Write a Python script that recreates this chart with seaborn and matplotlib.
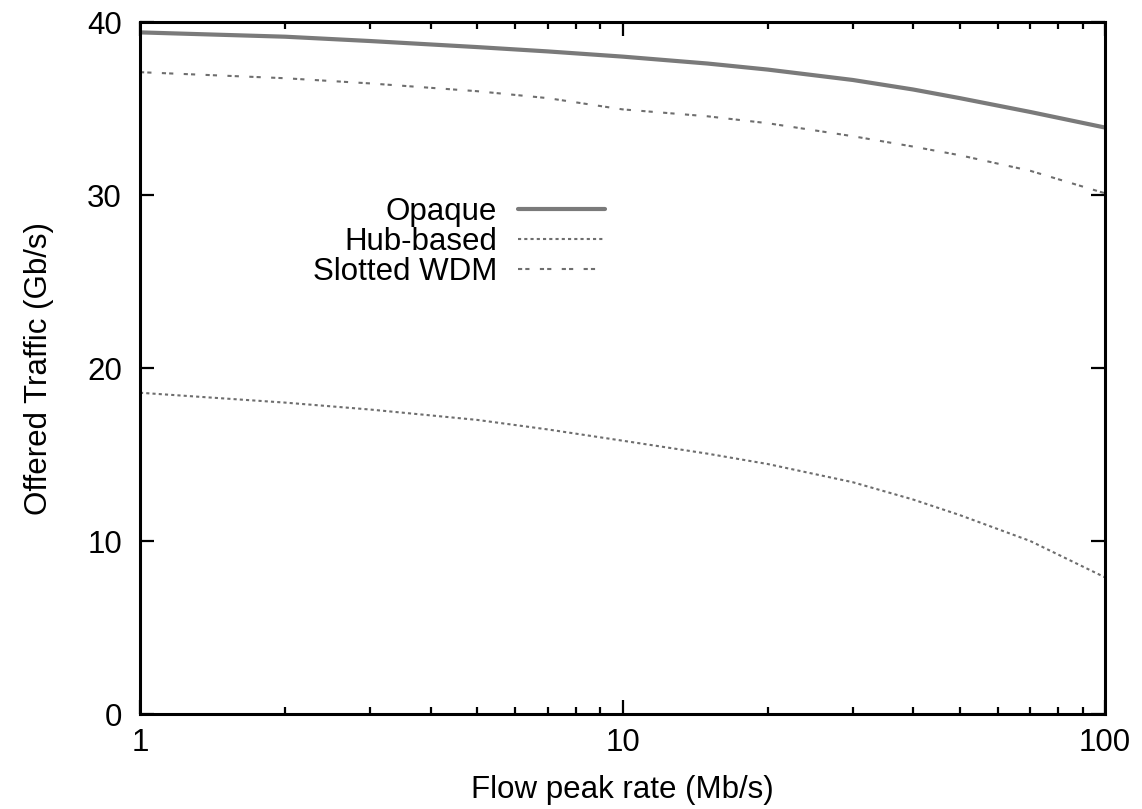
import numpy as np
import pandas as pd
import matplotlib
matplotlib.use("Agg")
import matplotlib.pyplot as plt
import seaborn as sns

# values (log x axis)
peak_rate = [1, 2, 3, 5, 7, 10, 15, 20, 30, 40, 50, 70, 100]
opaque = [39.4, 39.15, 38.9, 38.55, 38.3, 38.0, 37.6, 37.25, 36.65, 36.1, 35.6, 34.8, 33.9]
hub_based = [18.57, 18.0, 17.6, 17.0, 16.45, 15.8, 15.05, 14.45, 13.4, 12.4, 11.5, 10.0, 7.9]
slotted_wdm = [37.1, 36.75, 36.45, 36.0, 35.6, 34.95, 34.55, 34.15, 33.4, 32.8, 32.3, 31.4, 30.1]

series_names = ["Opaque", "Hub-based", "Slotted WDM"]
y_ticks = [0, 10, 20, 30, 40]
x_ticks = [1, 10, 100]

df = pd.DataFrame({"rate": peak_rate, "Opaque": opaque,
                   "Hub-based": hub_based, "Slotted WDM": slotted_wdm})

sns.set_style("ticks")
plt.rcParams["font.family"] = ["Liberation Sans", "DejaVu Sans"]

fig = plt.figure(figsize=(11.42, 8.09), dpi=100)
ax = fig.add_axes([0.1226, 0.1174, 0.845, 0.8554])

styles = {
    "Opaque": dict(color="#7a7a7a", linewidth=3.0, linestyle="-"),
    "Hub-based": dict(color="#6e6e6e", linewidth=1.5, linestyle=(0, (1.5, 1.5))),
    "Slotted WDM": dict(color="#6e6e6e", linewidth=1.5, linestyle=(0, (2, 1.5, 2, 5))),
}
for name in series_names:
    sns.lineplot(data=df, x="rate", y=name, ax=ax, label=name, **styles[name])

ax.set_xscale("log")
ax.set_xlim(1, 100)
ax.set_ylim(0, 40)
ax.set_xticks(x_ticks)
ax.set_xticklabels([str(t) for t in x_ticks])
ax.set_yticks(y_ticks)
ax.set_yticklabels([str(t) for t in y_ticks])
ax.yaxis.set_minor_locator(matplotlib.ticker.NullLocator())

for side in ["top", "right", "bottom", "left"]:
    ax.spines[side].set_visible(True)
    ax.spines[side].set_linewidth(2.2)
    ax.spines[side].set_color("black")

fs = 22.5
ax.tick_params(axis="both", which="major", direction="in", length=10, width=1.6,
               top=True, right=True, labelsize=fs, colors="black")
ax.tick_params(axis="x", which="minor", direction="in", length=5, width=1.6,
               top=True, bottom=True, colors="black")
ax.tick_params(axis="x", which="major", pad=10)
ax.tick_params(axis="y", which="major", pad=13)

ax.set_xlabel("Flow peak rate (Mb/s)", fontsize=fs, labelpad=12, color="black")
ax.set_ylabel("Offered Traffic (Gb/s)", fontsize=fs, labelpad=24, color="black")

leg = ax.legend(loc="center right", bbox_to_anchor=(0.482, 0.682),
                markerfirst=False, frameon=False, fontsize=fs,
                handlelength=2.8, handletextpad=0.65, labelspacing=0.0,
                borderpad=0, borderaxespad=0)
for t in leg.get_texts():
    t.set_ha("right")
    t.set_color("black")

plt.savefig("out.png", dpi=100)
